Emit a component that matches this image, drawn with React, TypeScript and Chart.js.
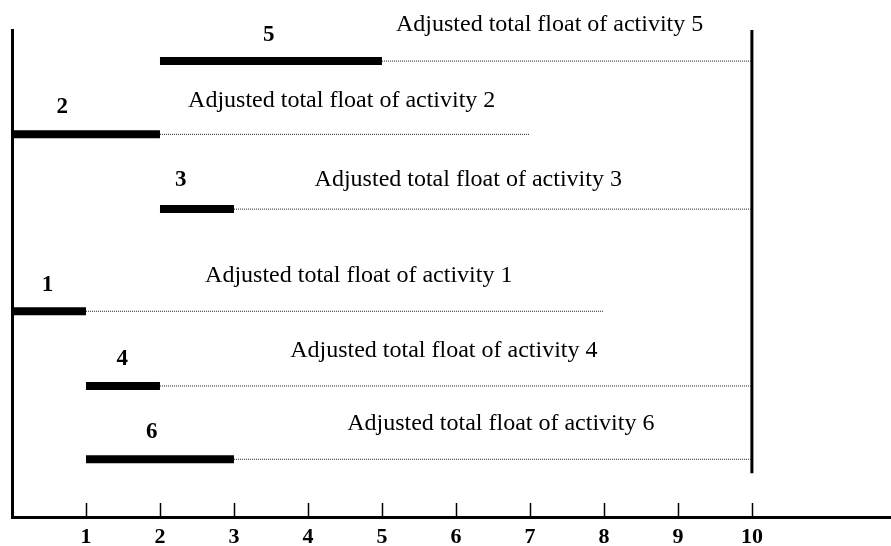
import React, { useEffect, useRef } from "react";
import { Chart, registerables } from "chart.js";

Chart.register(...registerables);

// ---- data ----
const activities = ["5", "2", "3", "1", "4", "6"];
const rowY = [6.16, 5.17, 4.16, 2.78, 1.77, 0.78];
const startTimes = [2, 0, 2, 0, 1, 1];
const finishTimes = [5, 2, 3, 1, 2, 3];
const floatEnds = [10, 7, 10, 8, 10, 10];
const labelX = [3.47, 0.68, 2.28, 0.48, 1.49, 1.89];
const labelY = [6.51, 5.54, 4.55, 3.13, 2.14, 1.15];
const floatTexts = [
  "Adjusted total float of activity 5",
  "Adjusted total float of activity 2",
  "Adjusted total float of activity 3",
  "Adjusted total float of activity 1",
  "Adjusted total float of activity 4",
  "Adjusted total float of activity 6",
];
const floatTextX = [5.19, 2.38, 4.09, 2.61, 3.76, 4.53];
const floatTextY = [6.57, 5.54, 4.47, 3.18, 2.16, 1.18];
const xTicks = [1, 2, 3, 4, 5, 6, 7, 8, 9, 10];
const projectEnd = 10;
const projectLineY = [0.59, 6.58];
const xMax = 11.88;
const yMax = 6.58;

const SERIF = '"Liberation Serif", "Times New Roman", serif';

export default function App() {
  const ref = useRef<HTMLCanvasElement | null>(null);

  useEffect(() => {
    const canvas = ref.current;
    if (!canvas) return;

    const datasets: any[] = [];
    activities.forEach((a, i) => {
      datasets.push({
        label: "Activity " + a,
        data: [
          { x: startTimes[i], y: rowY[i] },
          { x: finishTimes[i], y: rowY[i] },
        ],
        borderColor: "#000",
        borderWidth: 8,
        borderCapStyle: "butt",
        pointRadius: 0,
        showLine: true,
        fill: false,
      });
      datasets.push({
        label: "Float " + a,
        data: [
          { x: finishTimes[i], y: rowY[i] },
          { x: floatEnds[i], y: rowY[i] },
        ],
        borderColor: "#222",
        borderWidth: 1,
        borderDash: [1, 1],
        pointRadius: 0,
        showLine: true,
        fill: false,
      });
    });
    datasets.push({
      label: "Project end",
      data: [
        { x: projectEnd, y: projectLineY[0] },
        { x: projectEnd, y: projectLineY[1] },
      ],
      borderColor: "#000",
      borderWidth: 3,
      pointRadius: 0,
      showLine: true,
      fill: false,
    });

    const annotate = {
      id: "annotate",
      afterDatasetsDraw(chart: any) {
        const { ctx, scales } = chart;
        const xs = scales.x;
        const ys = scales.y;
        ctx.save();
        // inward tick marks
        ctx.strokeStyle = "#000";
        ctx.lineWidth = 1.5;
        const base = chart.chartArea.bottom;
        xTicks.forEach((v) => {
          const px = Math.round(xs.getPixelForValue(v)) + 0.5;
          ctx.beginPath();
          ctx.moveTo(px, base);
          ctx.lineTo(px, base - 14);
          ctx.stroke();
        });
        // activity numbers
        ctx.fillStyle = "#000";
        ctx.font = "bold 23px " + SERIF;
        ctx.textAlign = "center";
        ctx.textBaseline = "middle";
        activities.forEach((a, i) => {
          ctx.fillText(a, xs.getPixelForValue(labelX[i]), ys.getPixelForValue(labelY[i]));
        });
        // float texts
        ctx.font = "24px " + SERIF;
        ctx.textAlign = "left";
        ctx.textBaseline = "alphabetic";
        floatTexts.forEach((t, i) => {
          ctx.fillText(t, xs.getPixelForValue(floatTextX[i]), ys.getPixelForValue(floatTextY[i]));
        });
        ctx.restore();
      },
    };

    const chart = new Chart(canvas, {
      type: "scatter",
      data: { datasets },
      plugins: [annotate],
      options: {
        animation: false,
        responsive: false,
        maintainAspectRatio: false,
        layout: { padding: { left: 12, top: 30, right: 0, bottom: 0 } },
        plugins: {
          legend: { display: false },
          tooltip: { enabled: false },
        },
        scales: {
          x: {
            type: "linear",
            min: 0,
            max: xMax,
            afterBuildTicks: (s: any) => {
              s.ticks = xTicks.map((v) => ({ value: v }));
            },
            afterFit: (s: any) => {
              s.height = 29;
            },
            grid: { display: false, drawTicks: false },
            border: { display: true, width: 3, color: "#000" },
            ticks: {
              color: "#000",
              padding: 12,
              autoSkip: false,
              maxRotation: 0,
              font: { family: SERIF, size: 22, weight: "bold", lineHeight: 0.8 },
              callback: (v: any) => String(v),
            },
          },
          y: {
            type: "linear",
            min: 0,
            max: yMax,
            grid: { display: false, drawTicks: false },
            border: { display: true, width: 3, color: "#000" },
            ticks: { display: false },
          },
        },
      } as any,
    });

    return () => chart.destroy();
  }, []);

  return (
    <div style={{ position: "fixed", left: 0, top: 0, width: 891, height: 546, background: "#fff" }}>
      <canvas ref={ref} width={891} height={546} style={{ display: "block" }} />
    </div>
  );
}
